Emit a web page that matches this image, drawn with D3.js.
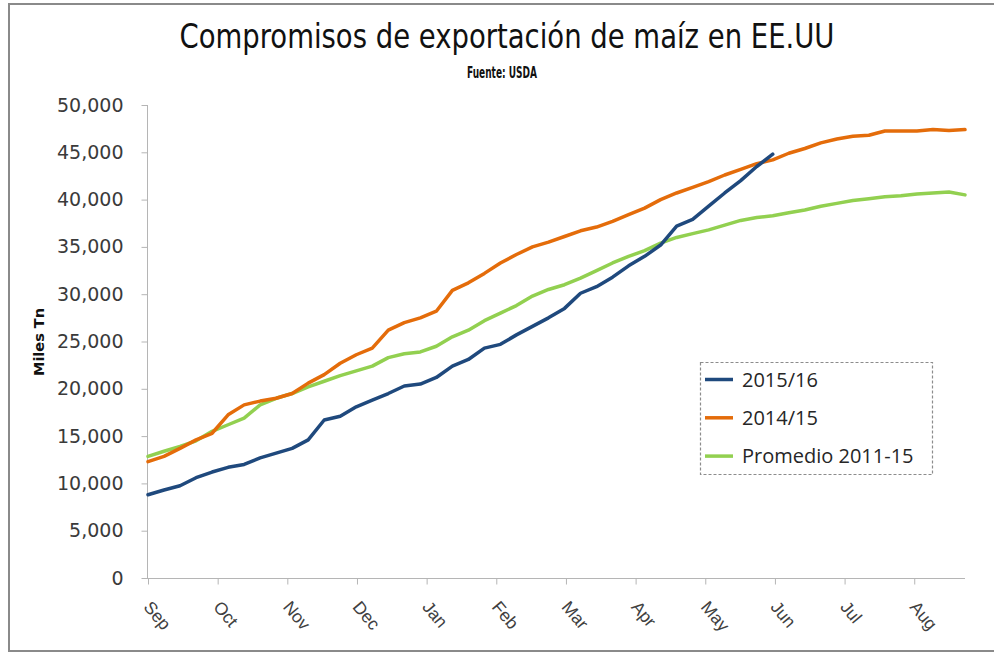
<!DOCTYPE html>
<html lang="es">
<head>
<meta charset="UTF-8">
<title>Compromisos de exportación de maíz en EE.UU</title>
<script src="https://d3js.org/d3.v7.min.js"></script>
<style>
    body { margin: 0; background: #fff; }
    svg { display: block; }
    .ylab { font-family: "DejaVu Sans", Verdana, sans-serif; font-size: 19px; fill: #3a3a3a; }
    .xlab { font-family: "Liberation Sans", Arial, sans-serif; font-size: 17.5px; fill: #404040; }
    .leg { font-family: "Open Sans", "Liberation Sans", sans-serif; font-size: 20px; fill: #262626; }
</style>
</head>
<body>
<svg id="chart" width="994" height="654"></svg>
<script>
// --- data (weekly, starting first week of September) ---
const months = ["Sep", "Oct", "Nov", "Dec", "Jan", "Feb", "Mar", "Apr", "May", "Jun", "Jul", "Aug"];
const yTicks = [0, 5000, 10000, 15000, 20000, 25000, 30000, 35000, 40000, 45000, 50000];

const s2015 = [8800, 9300, 9750, 10600, 11200, 11700, 12000, 12700, 13200, 13700,
    14600, 16700, 17100, 18100, 18800, 19500, 20300, 20500, 21200, 22400,
    23100, 24300, 24700, 25700, 26600, 27500, 28500, 30100, 30800, 31800,
    33000, 34000, 35200, 37200, 37900, 39300, 40700, 42000, 43500, 44800];

const s2014 = [12300, 12850, 13700, 14600, 15300, 17250, 18300, 18700, 19000, 19500,
    20600, 21500, 22700, 23600, 24300, 26200, 27000, 27500, 28200, 30400,
    31200, 32200, 33300, 34200, 35000, 35500, 36100, 36700, 37100, 37700,
    38400, 39100, 40000, 40700, 41300, 41900, 42600, 43200, 43800, 44200,
    44900, 45400, 46000, 46400, 46700, 46800, 47250, 47250, 47250, 47400,
    47300, 47400];

const sAvg = [12850, 13400, 13900, 14500, 15500, 16200, 16900, 18300, 19000, 19500,
    20200, 20800, 21400, 21900, 22400, 23300, 23700, 23900, 24500, 25500,
    26200, 27200, 28000, 28800, 29800, 30500, 31000, 31700, 32500, 33300,
    34000, 34600, 35400, 36000, 36400, 36800, 37300, 37800, 38100, 38300,
    38600, 38900, 39300, 39600, 39900, 40100, 40300, 40400, 40600, 40700,
    40800, 40500];

const series = [
    { name: "2015/16", values: s2015, color: "#1f497d" },
    { name: "2014/15", values: s2014, color: "#e46c0a" },
    { name: "Promedio 2011-15", values: sAvg, color: "#92d050" }
];

const svg = d3.select("#chart");

// outer frame (right side runs off the picture)
svg.append("rect")
    .attr("x", 9).attr("y", 4).attr("width", 1020).attr("height", 647)
    .attr("fill", "none").attr("stroke", "#8a8a8a").attr("stroke-width", 2);

// titles
svg.append("text")
    .attr("x", 507).attr("y", 48)
    .attr("text-anchor", "middle")
    .attr("textLength", 655).attr("lengthAdjust", "spacingAndGlyphs")
    .style("font-family", "'Liberation Sans Narrow', 'DejaVu Sans Condensed', sans-serif")
    .style("font-size", "33px").style("font-weight", "500")
    .style("fill", "#111")
    .text("Compromisos de exportación de maíz en EE.UU");

svg.append("text")
    .attr("x", 502).attr("y", 78)
    .attr("text-anchor", "middle")
    .attr("textLength", 70).attr("lengthAdjust", "spacingAndGlyphs")
    .style("font-family", "'Liberation Sans Narrow', 'DejaVu Sans Condensed', sans-serif")
    .style("font-size", "16px").style("font-weight", "bold")
    .style("fill", "#111")
    .text("Fuente: USDA");

// scales
const nWeeks = 52;
const x = d3.scaleLinear().domain([0, nWeeks - 1]).range([148, 965]);
const y = d3.scaleLinear().domain([0, 50000]).range([578, 105]);
const weeksPerMonth = 52.18 / 12;

// y axis
const yAxis = svg.append("g").attr("transform", "translate(147.5,0)")
    .call(d3.axisLeft(y).tickValues(yTicks).tickSize(6).tickPadding(18)
        .tickFormat(d3.format(",")));
yAxis.select(".domain").attr("stroke", "#b5b5b5").attr("d", `M0,${y(50000)}V${y(0)}`);
yAxis.selectAll(".tick line").attr("stroke", "#b5b5b5");
yAxis.selectAll(".tick text").attr("class", "ylab").attr("fill", null);

// x axis
const monthTicks = months.map((m, i) => i * weeksPerMonth);
const xAxis = svg.append("g").attr("transform", `translate(0,${y(0) + 0.5})`)
    .call(d3.axisBottom(x).tickValues(monthTicks).tickSize(6)
        .tickFormat((d, i) => months[i]));
xAxis.select(".domain").attr("stroke", "#b5b5b5").attr("d", `M${x(0) - 1},0H${x(nWeeks - 1)}`);
xAxis.selectAll(".tick line").attr("stroke", "#b5b5b5");
xAxis.selectAll(".tick text")
    .attr("class", "xlab").attr("fill", null)
    .attr("text-anchor", "start")
    .attr("x", 0).attr("y", 0).attr("dy", "0.35em")
    .attr("transform", "translate(-1,25) rotate(50)");

// y axis title
svg.append("text")
    .attr("transform", "translate(44,342) rotate(-90)")
    .attr("text-anchor", "middle")
    .style("font-family", "'DejaVu Sans', Verdana, sans-serif")
    .style("font-size", "14.5px").style("font-weight", "bold")
    .style("fill", "#111")
    .text("Miles Tn");

// lines
const line = d3.line().x((d, i) => x(i)).y(d => y(d));
svg.append("g").selectAll("path")
    .data(series.slice().reverse())
    .join("path")
    .attr("d", d => line(d.values))
    .attr("fill", "none")
    .attr("stroke", d => d.color)
    .attr("stroke-width", 3.5)
    .attr("stroke-linejoin", "round")
    .attr("stroke-linecap", "round");

// legend
const legend = svg.append("g").attr("transform", "translate(700,362)");
legend.append("rect")
    .attr("x", 0.5).attr("y", 0.5).attr("width", 232).attr("height", 112)
    .attr("fill", "#fff").attr("stroke", "#8c8c8c")
    .attr("stroke-dasharray", "3,2").attr("stroke-width", 1.2);
const items = legend.selectAll("g.item").data(series).join("g")
    .attr("class", "item")
    .attr("transform", (d, i) => `translate(0,${17.5 + i * 38.3})`);
items.append("line")
    .attr("x1", 5).attr("x2", 33).attr("y1", 0).attr("y2", 0)
    .attr("stroke", d => d.color).attr("stroke-width", 3.5);
items.append("text")
    .attr("class", "leg")
    .attr("x", 42).attr("y", 0).attr("dy", "0.35em")
    .text(d => d.name);
</script>
</body>
</html>
